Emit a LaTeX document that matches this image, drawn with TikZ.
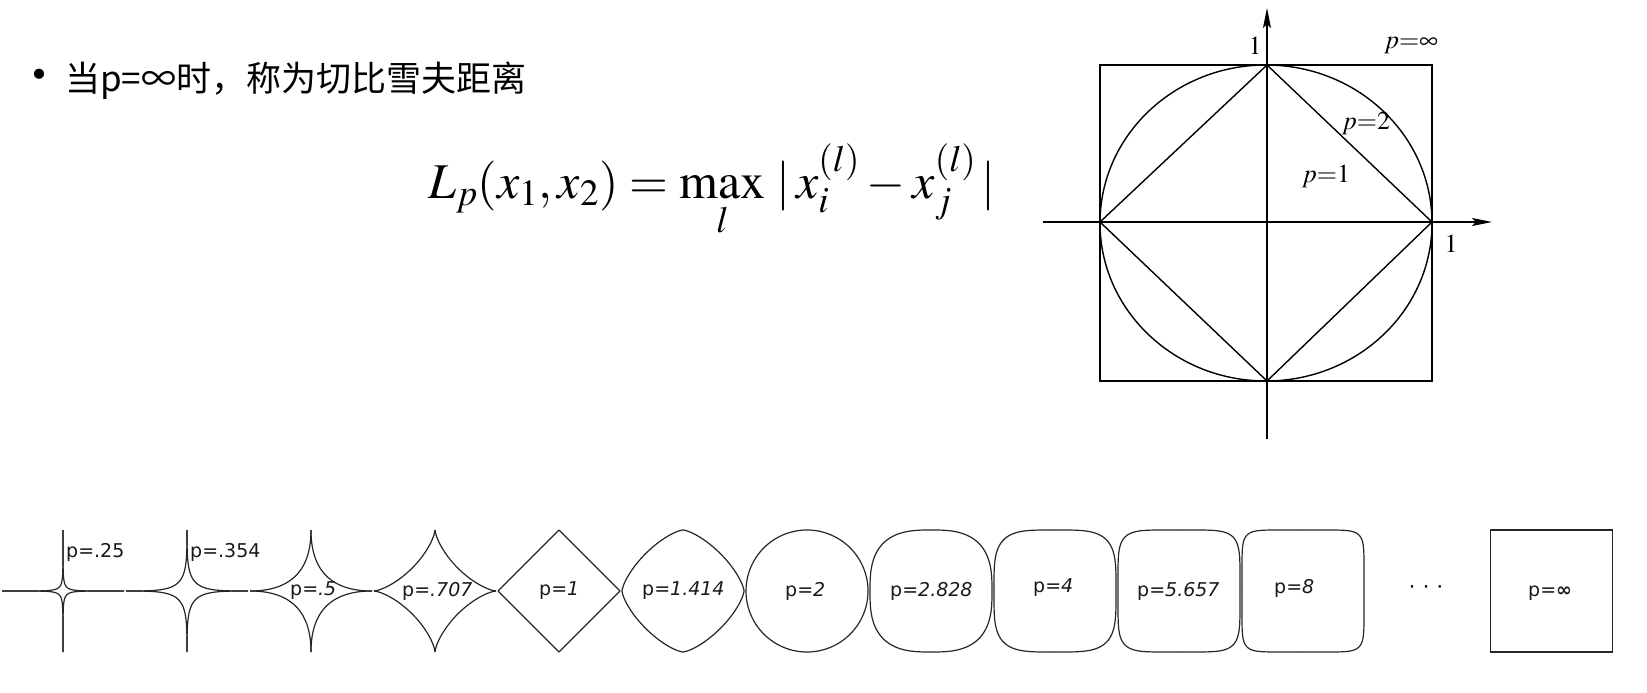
\documentclass[tikz,border=0pt]{standalone}
\usepackage{mathptmx}
\usepackage{fontspec}
\setmainfont{Liberation Serif}
\newfontfamily\cjkfont{Noto Sans CJK SC}
\newfontfamily\labelfont{DejaVu Sans}
\usetikzlibrary{arrows.meta}
\tikzset{
  ball/.style={line width=1.2pt, black!85},
  plabel/.style={font=\labelfont\fontsize{19}{19}\selectfont, text=black!90, inner sep=0pt},
  axis/.style={line width=1.4pt, -{Stealth[length=20pt,width=8pt,inset=4pt]}},
  figline/.style={line width=1.4pt},
  figlabel/.style={font=\fontsize{26}{26}\selectfont, inner sep=0pt},
  headline/.style={font=\cjkfont\fontsize{35}{35}\selectfont, inner sep=0pt}
}
\begin{document}
\begin{tikzpicture}[x=1pt,y=-1pt]
  \useasboundingbox (0,0) rectangle (1647,693);
  % headline and formula
  \node[headline, font=\cjkfont\fontsize{48}{48}\selectfont] (bullet) at (40,81) {•};
  \node[headline, anchor=west] (title) at (65,81) {当p=∞时，称为切比雪夫距离};
  \node[anchor=base, inner sep=0pt, font=\fontsize{50}{52}\selectfont] (formula) at (712,198)
    {$\displaystyle L_p(x_1,x_2)=\max_l\,|\,x_i^{(l)}-x_j^{(l)}\,|$};
  % unit balls p=1, p=2, p=infinity
  \draw[figline] (1100,65) rectangle (1432,381);
  \draw[figline] (1266,223) ellipse [x radius=166, y radius=158];
  \draw[figline] (1100,222) -- (1267,65) -- (1432,222) -- (1267,381) -- cycle;
  \draw[axis] (1043,222) -- (1492,222);
  \draw[axis] (1267,439) -- (1267,8);
  \node[figlabel] (one y) at (1255,46) {$1$};
  \node[figlabel] (one x) at (1451,244) {$1$};
  \node[figlabel] (p inf) at (1411,46) {$p{=}\infty$};
  \node[figlabel] (p two) at (1366,123) {$p{=}2$};
  \node[figlabel] (p one) at (1326,176) {$p{=}1$};
  % row of superellipses
  \foreach \p [count=\k from 0] in {0.25,0.354,0.5,0.707,1,1.414,2,2.828,4,5.657,8}
    \foreach \sx/\sy in {1/1,-1/1,-1/-1,1/-1}
      \draw[ball, shift={(63+124*\k,591)}, xscale=\sx, yscale=\sy] (61,0)
        -- plot[domain=0.2:89.8, samples=80, smooth] ({61*pow(cos(\x),2/\p)},{61*pow(sin(\x),2/\p)})
        -- (0,61);
  \draw[ball] (1490.5,530) rectangle (1612.5,652);
  \node[plabel, anchor=west] (l25) at (66,552) {p=.25};
  \node[plabel, anchor=west] (l354) at (190,552) {p=.354};
  \node[plabel, anchor=west] (l5) at (290,591) {p=\textit{.5}};
  \node[plabel, anchor=west] (l707) at (402,591) {p=\textit{.707}};
  \node[plabel, anchor=west] (l1) at (539,591) {p=\textit{1}};
  \node[plabel, anchor=west] (l1414) at (642,591) {p=\textit{1.414}};
  \node[plabel, anchor=west] (l2) at (785,591) {p=\textit{2}};
  \node[plabel, anchor=west] (l2828) at (890,591) {p=\textit{2.828}};
  \node[plabel, anchor=west] (l4) at (1033,588) {p=\textit{4}};
  \node[plabel, anchor=west] (l5657) at (1137,591) {p=\textit{5.657}};
  \node[plabel, anchor=west] (l8) at (1274,588) {p=\textit{8}};
  \node[plabel, font=\labelfont\fontsize{22}{22}\selectfont] (dots) at (1426,590) {· · ·};
  \node[plabel, anchor=west] (linf) at (1528,593) {p=\textbf{∞}};
\end{tikzpicture}
\end{document}
